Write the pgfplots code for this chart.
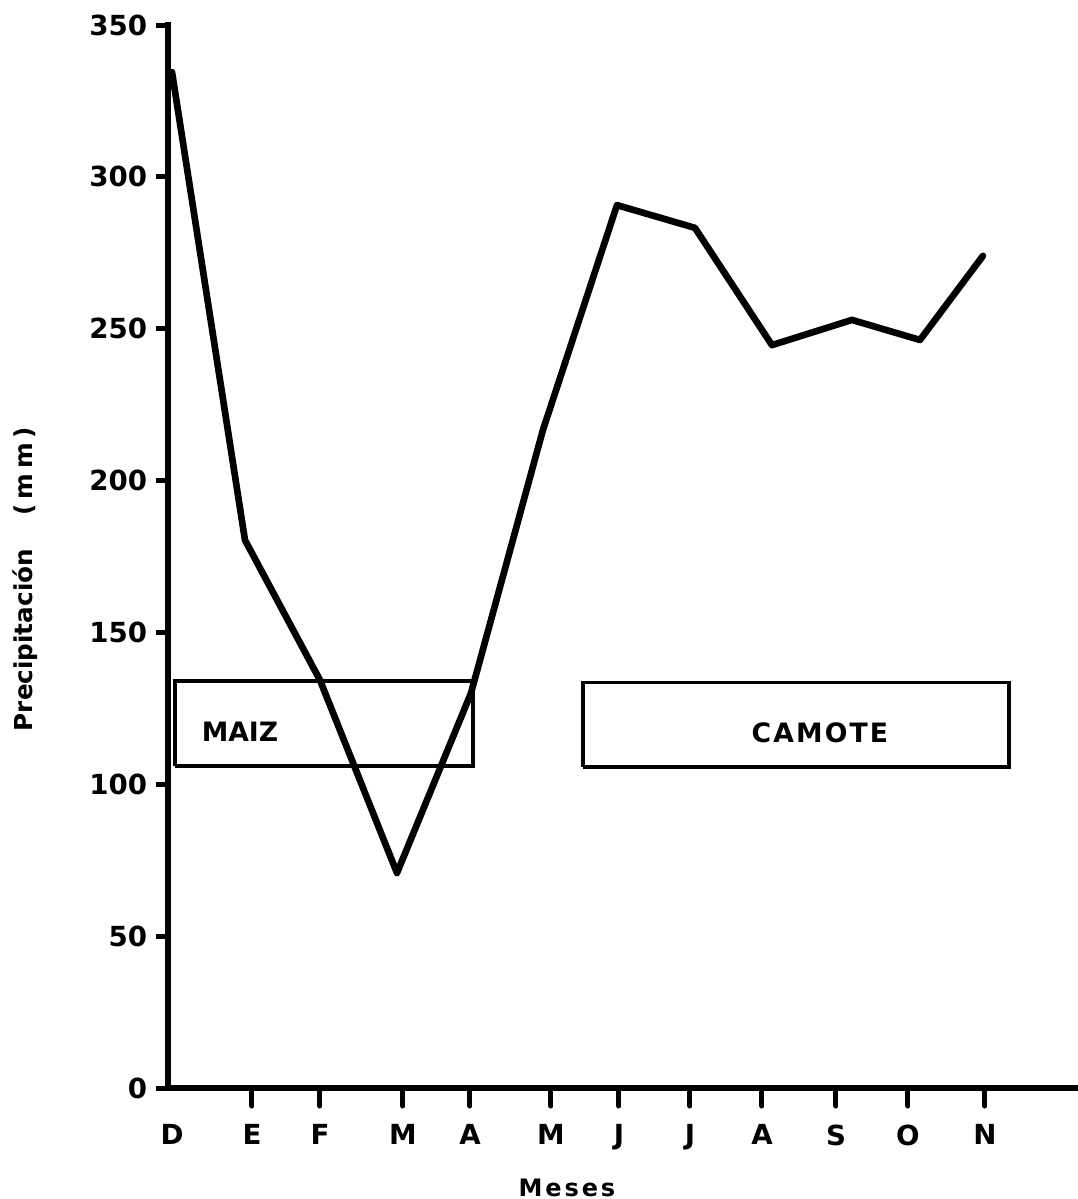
\documentclass[border=0pt]{standalone}
\usepackage{pgfplots}
\pgfplotsset{compat=1.18}
\usepackage{fontspec}
\setmainfont{DejaVu Sans}
\begin{document}
\begin{tikzpicture}[x=1pt,y=1pt]
\path[use as bounding box] (-50.4,-33.3) rectangle (273,326.4);
\begin{axis}[
  at={(0,0)}, anchor=south west,
  scale only axis, width=273pt, height=318.9pt,
  xmin=0, xmax=910, ymin=0, ymax=350,
  clip=false,
  axis lines*=left,
  axis line style={line width=1.9pt, line cap=rect},
  tick align=outside,
  ytick={0,50,...,350},
  xtick={84,152,235,302,383,451,522,594,668,740,817},
  xticklabels={E,F,M,A,M,J,J,A,S,O,N},
  extra x ticks={4},
  extra x tick labels={D},
  extra x tick style={tick style={draw=none}},
  xtick style={/pgfplots/major tick length=5.4pt, line width=1.5pt, line cap=round, black},
  ytick style={/pgfplots/major tick length=3.6pt, line width=1.5pt, black},
  /pgf/number format/assume math mode=true,
  tick label style={font=\bfseries\fontsize{8.3}{10}\selectfont},
  yticklabel style={inner sep=1.8pt},
  xticklabel style={yshift=-3.2pt},
]
\addplot[black, line width=1pt, line join=miter] coordinates {(7,106) (305,106) (305,134) (7,134) (7,106)};
\addplot[black, line width=1pt, line join=miter] coordinates {(415,105.7) (841,105.7) (841,133.5) (415,133.5) (415,105.7)};
\addplot[black, line width=2pt, line join=round, line cap=round] coordinates {
(4,334.5) (77,180.4) (152,134.3) (229,70.8) (303,130) (375,216.7) (449,290.7) (527,283.2) (604,244.6) (684,252.9) (752,246.3) (815,274)};
\node[font=\bfseries\fontsize{8}{9}\selectfont] at (axis cs:72,117.2) {MAIZ};
\node[font=\bfseries\fontsize{8}{9}\selectfont\addfontfeature{LetterSpace=8}] at (axis cs:652,117) {CAMOTE};
\node[rotate=90, font=\bfseries\fontsize{7.4}{8}\selectfont] at (axis cs:-143,167.6) {Precipitación\hspace{10pt}(\hspace{1.5pt}m\hspace{1.5pt}m\hspace{1.5pt})};
\node[font=\bfseries\fontsize{7.2}{8}\selectfont\addfontfeature{LetterSpace=12}] at (axis cs:399,-32.9) {Meses};
\end{axis}
\end{tikzpicture}
\end{document}
